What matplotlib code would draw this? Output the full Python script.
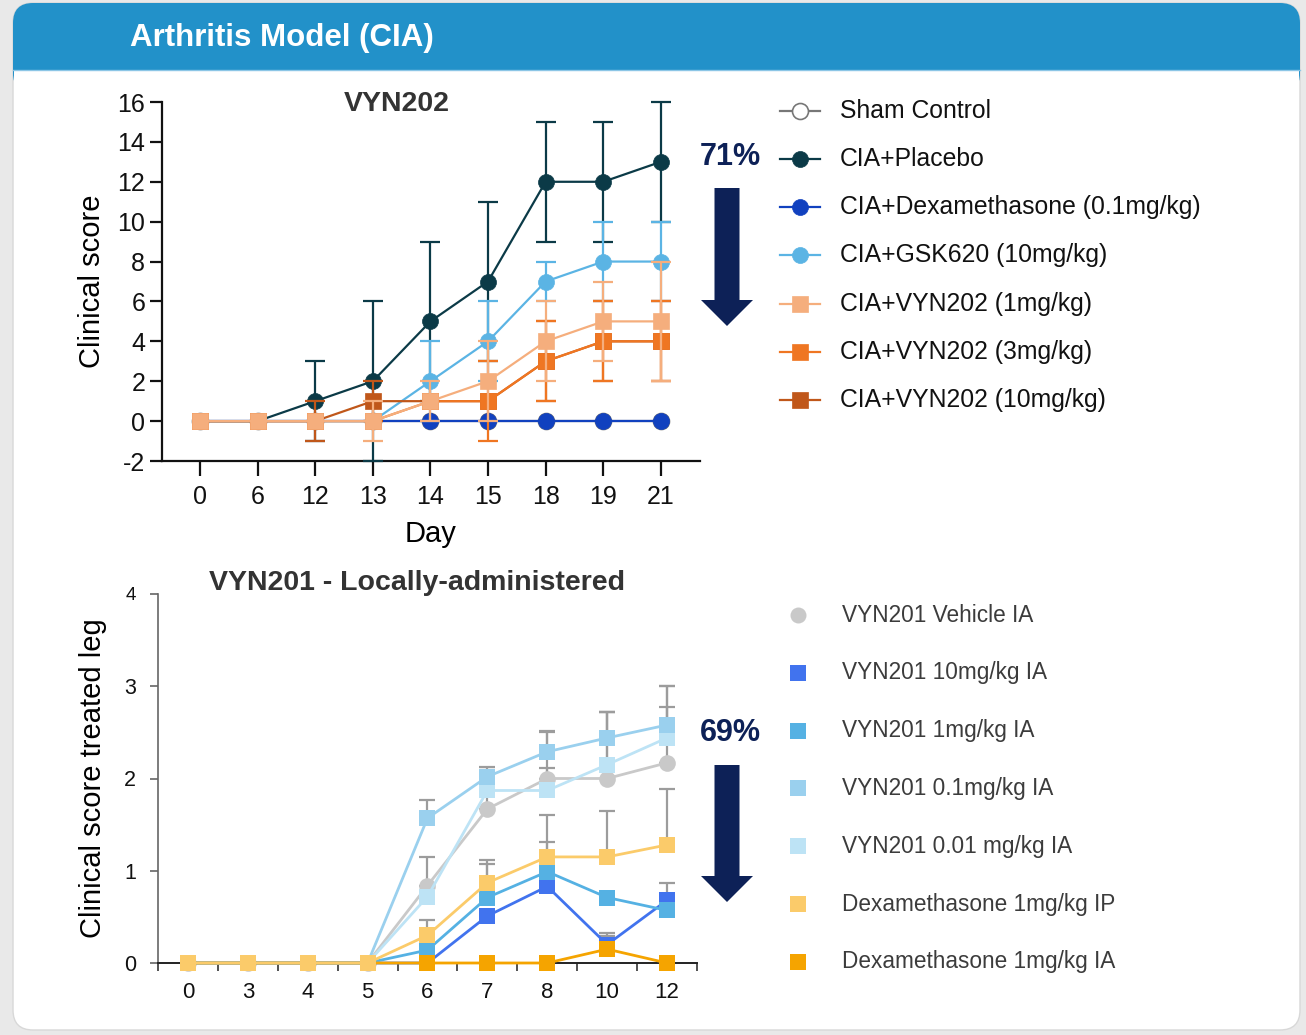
import numpy as np
import matplotlib
matplotlib.use("Agg")
import matplotlib.pyplot as plt
from matplotlib.patches import FancyBboxPatch, Rectangle, Polygon

plt.rcParams['font.family'] = ['Liberation Sans', 'DejaVu Sans']
plt.rcParams['axes.unicode_minus'] = False

# ---------------- data: top chart (VYN202) ----------------
top_days = ['0', '6', '12', '13', '14', '15', '18', '19', '21']
top_series = ['Sham Control', 'CIA+Placebo', 'CIA+Dexamethasone (0.1mg/kg)',
              'CIA+GSK620 (10mg/kg)', 'CIA+VYN202 (1mg/kg)', 'CIA+VYN202 (3mg/kg)',
              'CIA+VYN202 (10mg/kg)']
sham_vals = [0, 0, 0, 0, 0, 0, 0, 0, 0]
sham_err = [0, 0, 0, 0, 0, 0, 0, 0, 0]
placebo_vals = [0, 0, 1, 2, 5, 7, 12, 12, 13]
placebo_err = [0, 0, 2, 4, 4, 4, 3, 3, 3]
dex01_vals = [0, 0, 0, 0, 0, 0, 0, 0, 0]
dex01_err = [0, 0, 0, 0, 0, 0, 0, 0, 0]
gsk_vals = [0, 0, 0, 0, 2, 4, 7, 8, 8]
gsk_err = [0, 0, 0, 0, 2, 2, 1, 2, 2]
vyn1_vals = [0, 0, 0, 0, 1, 2, 4, 5, 5]
vyn1_err = [0, 0, 0, 1, 1, 2, 2, 2, 3]
vyn3_vals = [0, 0, 0, 0, 1, 1, 3, 4, 4]
vyn3_err = [0, 0, 0, 0, 0, 2, 2, 2, 2]
vyn10_vals = [0, 0, 0, 1, 1, 1, 3, 4, 4]
vyn10_err = [0, 0, 1, 1, 0, 0, 2, 2, 2]

# ---------------- data: bottom chart (VYN201) ----------------
bot_days = ['0', '3', '4', '5', '6', '7', '8', '10', '12']
bot_series = ['VYN201 Vehicle IA', 'VYN201 10mg/kg IA', 'VYN201 1mg/kg IA',
              'VYN201 0.1mg/kg IA', 'VYN201 0.01 mg/kg IA',
              'Dexamethasone 1mg/kg IP', 'Dexamethasone 1mg/kg IA']
vehicle_vals = [0, 0, 0, 0, 0.84, 1.67, 2.00, 2.00, 2.17]
vehicle_err = [0, 0, 0, 0, 0.31, 0.42, 0.50, 0.72, 0.83]
v10_vals = [0, 0, 0, 0, 0.0, 0.51, 0.83, 0.20, 0.68]
v10_err = [0, 0, 0, 0, 0, 0, 0, 0.13, 0.19]
v1_vals = [0, 0, 0, 0, 0.14, 0.71, 0.99, 0.71, 0.57]
v1_err = [0, 0, 0, 0, 0, 0.36, 0.32, 0, 0]
v01_vals = [0, 0, 0, 0, 1.57, 2.02, 2.29, 2.44, 2.58]
v01_err = [0, 0, 0, 0, 0.20, 0.10, 0.23, 0.28, 0.42]
v001_vals = [0, 0, 0, 0, 0.72, 1.87, 1.87, 2.15, 2.44]
v001_err = [0, 0, 0, 0, 0, 0.20, 0.24, 0.57, 0.33]
dexip_vals = [0, 0, 0, 0, 0.30, 0.87, 1.15, 1.15, 1.28]
dexip_err = [0, 0, 0, 0, 0.17, 0.25, 0.45, 0.50, 0.61]
dexia_vals = [0, 0, 0, 0, 0, 0, 0, 0.15, 0]
dexia_err = [0, 0, 0, 0, 0, 0, 0, 0.14, 0]

# ---------------- figure ----------------
W, H = 1306, 1035
fig = plt.figure(figsize=(W / 100, H / 100), dpi=100)
fig.patch.set_facecolor('#e9e9e9')

bg = fig.add_axes([0, 0, 1, 1], zorder=0)
bg.set_xlim(0, W)
bg.set_ylim(H, 0)
bg.axis('off')
bg.add_patch(FancyBboxPatch((13, 3), 1287, 1027, boxstyle='round,pad=0,rounding_size=20',
                            fc='white', ec='#d8d8d8', lw=1))
bg.add_patch(FancyBboxPatch((13, 3), 1287, 90, boxstyle='round,pad=0,rounding_size=20',
                            fc='#2291c9', ec='none'))
bg.add_patch(Rectangle((14, 70.5), 1285, 35, fc='white', ec='none'))
bg.plot([13, 1300], [70, 70], color='#8cc6e6', lw=1)
bg.text(130, 38, 'Arthritis Model (CIA)', color='white', fontsize=22.5,
        fontweight='bold', va='center', ha='left')

navy = '#0d2157'
bg.text(730, 157, '71%', color=navy, fontsize=22, fontweight='bold', ha='center', va='center')
bg.text(730, 733, '69%', color=navy, fontsize=22, fontweight='bold', ha='center', va='center')


def down_arrow(x, y0, y1, shaft=25, head=52, headlen=26):
    pts = [(x - shaft / 2, y0), (x + shaft / 2, y0), (x + shaft / 2, y1 - headlen),
           (x + head / 2, y1 - headlen), (x, y1), (x - head / 2, y1 - headlen),
           (x - shaft / 2, y1 - headlen)]
    bg.add_patch(Polygon(pts, closed=True, fc=navy, ec='none'))


down_arrow(727, 188, 326)
down_arrow(727, 765, 902)

# ---------------- top chart ----------------
top_colors = ['#777777', '#0b3a47', '#1141bf', '#5bb4e4', '#f5ae7d', '#ef7622', '#c0571a']
top_vals = [sham_vals, placebo_vals, dex01_vals, gsk_vals, vyn1_vals, vyn3_vals, vyn10_vals]
top_errs = [sham_err, placebo_err, dex01_err, gsk_err, vyn1_err, vyn3_err, vyn10_err]
top_markers = ['o', 'o', 'o', 'o', 's', 's', 's']

ax1 = fig.add_axes([162 / W, 1 - 461 / H, 538 / W, 359 / H], zorder=2)
ax1.set_facecolor('none')
x1 = np.arange(len(top_days))
draw_order = [0, 1, 2, 3, 6, 5, 4]
for i in draw_order:
    c = top_colors[i]
    v = np.array(top_vals[i], float)
    e = np.array(top_errs[i], float)
    m = e > 0
    if m.any():
        ax1.errorbar(x1[m], v[m], yerr=e[m], fmt='none', ecolor=c, elinewidth=1.6,
                     capsize=7, capthick=1.6, clip_on=False, zorder=3)
    face = 'white' if i == 0 else c
    ax1.plot(x1, v, '-', marker=top_markers[i], color=c, lw=1.6, ms=11.5,
             mfc=face, mec=c, mew=1.2 if i == 0 else 0.5, clip_on=False, zorder=3)

ax1.set_xlim(-0.66, 8.68)
ax1.set_ylim(-2, 16)
ax1.set_yticks(np.arange(-2, 17, 2))
ax1.set_xticks(x1)
ax1.set_xticklabels(top_days)
for s in ['top', 'right']:
    ax1.spines[s].set_visible(False)
for s in ['left', 'bottom']:
    ax1.spines[s].set_linewidth(1.6)
    ax1.spines[s].set_color('#111111')
ax1.tick_params(axis='y', length=9, width=1.6, labelsize=18, pad=3, colors='#111111')
ax1.tick_params(axis='x', length=11, width=1.6, labelsize=18, pad=6, colors='#111111')
ax1.set_ylabel('Clinical score', fontsize=21, labelpad=8)
ax1.set_xlabel('Day', fontsize=21, labelpad=8)
ax1.text(0.437, 0.995, 'VYN202', transform=ax1.transAxes, fontsize=20.5, fontweight='bold',
         color='#333333', ha='center', va='center')

# top legend
for i, lab in enumerate(top_series):
    y = 110.5 + 48.3 * i
    c = top_colors[i]
    face = 'white' if i == 0 else c
    bg.plot([780, 820], [y, y], color=c, lw=1.6)
    bg.plot([800], [y], marker=top_markers[i], ms=11.5, color=c, mfc=face, mec=c,
            mew=1.2 if i == 0 else 0.5)
    bg.text(840, y, lab, fontsize=17.8, va='center', ha='left', color='#111111')

# ---------------- bottom chart ----------------
bot_colors = ['#c9c9c9', '#4173ee', '#55b1e3', '#9ad0ee', '#bde3f5', '#fbcb6a', '#f5a400']
bot_vals = [vehicle_vals, v10_vals, v1_vals, v01_vals, v001_vals, dexip_vals, dexia_vals]
bot_errs = [vehicle_err, v10_err, v1_err, v01_err, v001_err, dexip_err, dexia_err]
bot_markers = ['o', 's', 's', 's', 's', 's', 's']

ax2 = fig.add_axes([158 / W, 1 - 963 / H, 539 / W, 369 / H], zorder=2)
ax2.set_facecolor('none')
x2 = np.arange(len(bot_days))
for i in range(len(bot_series)):
    v = np.array(bot_vals[i], float)
    e = np.array(bot_errs[i], float)
    m = e > 0
    if m.any():
        ax2.errorbar(x2[m], v[m], yerr=[np.zeros(m.sum()), e[m]], fmt='none',
                     ecolor='#9c9c9c', elinewidth=1.6, capsize=6, capthick=1.6,
                     clip_on=False, zorder=2)
bot_order = [0, 4, 3, 1, 2, 6, 5]
for i in bot_order:
    c = bot_colors[i]
    ax2.plot(x2, bot_vals[i], '-', marker=bot_markers[i], color=c, lw=2.0,
             ms=12, mfc=c, mec=c, mew=0, clip_on=False, zorder=3)

ax2.set_xlim(-0.5, 8.5)
ax2.set_ylim(0, 4)
ax2.set_yticks([0, 1, 2, 3, 4])
ax2.set_yticklabels(['0', '1', '2', '3', '4'])
ax2.set_xticks(x2)
ax2.set_xticklabels(bot_days)
ax2.set_xticks(np.arange(-0.5, 8.6, 1), minor=True)
for s in ['top', 'right']:
    ax2.spines[s].set_visible(False)
ax2.spines['left'].set_color('#666666')
ax2.spines['left'].set_linewidth(1.2)
ax2.spines['bottom'].set_color('#222222')
ax2.spines['bottom'].set_linewidth(1.4)
ax2.tick_params(axis='y', length=6, width=1.2, labelsize=15.5, pad=10, colors='#666666',
                labelcolor='#111111')
ax2.tick_params(axis='x', which='major', length=0, labelsize=16, pad=14, labelcolor='#111111')
ax2.tick_params(axis='x', which='minor', length=6, width=1.2, color='#333333')
ax2.get_yticklabels()[-1].set_fontsize(13.5)
ax2.set_ylabel('Clinical score treated leg', fontsize=21, labelpad=12)
ax2.text(0.48, 1.03, 'VYN201 - Locally-administered', transform=ax2.transAxes,
         fontsize=20.5, fontweight='bold', color='#333333', ha='center', va='center')

# bottom legend
for i, lab in enumerate(bot_series):
    y = 615 + 57.8 * i
    c = bot_colors[i]
    bg.plot([798], [y], marker=bot_markers[i], ms=12 if i else 11.5, color=c, mfc=c,
            mec=c, mew=0)
    bg.text(842, y, lab, fontsize=16.3, va='center', ha='left', color='#3c3c3c')

fig.savefig('out.png', dpi=100, facecolor=fig.get_facecolor())
